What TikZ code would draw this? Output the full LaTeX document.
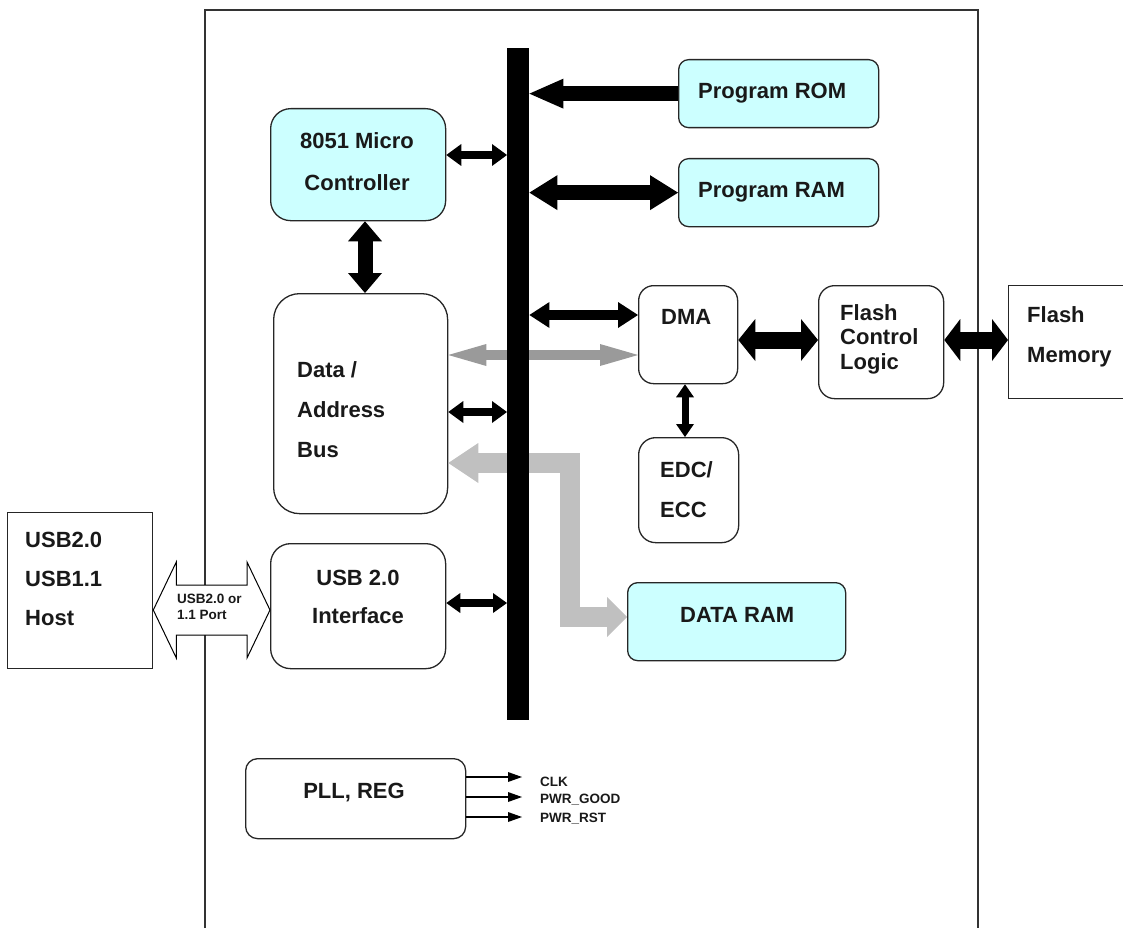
\documentclass[tikz,border=0pt]{standalone}
\usepackage{fontspec}
\setmainfont{Liberation Sans}
\usetikzlibrary{arrows.meta,calc}
\definecolor{cyanbox}{HTML}{CCFFFF}
\definecolor{lgray}{HTML}{C0C0C0}
\definecolor{mgray}{HTML}{9A9A9A}
\tikzset{
  box/.style={draw=black!85, line width=1.3pt, inner sep=0pt, anchor=north west},
  lbl/.style={font=\fontsize{22}{#1}\selectfont\bfseries, inner sep=0pt, align=left, text=black!90},
  lbl/.default=40,
  sml/.style={font=\fontsize{13.5}{16}\selectfont\bfseries, inner sep=0pt, align=left, text=black!90},
  dbl/.style n args={3}{line width=#1pt, arrows={Triangle[length=#3pt,width=#2pt,line width=0pt]-Triangle[length=#3pt,width=#2pt,line width=0pt]}},
  sgl/.style n args={3}{line width=#1pt, arrows={-Triangle[length=#3pt,width=#2pt,line width=0pt]}},
}
\begin{document}
\begin{tikzpicture}[x=1pt,y=-1pt]
\useasboundingbox (0,0) rectangle (1123,928);
% chip outline (open at the bottom)
\draw[line width=1.6pt, black!80] (205,928) -- (205,10) -- (978,10) -- (978,928);
% boxes
\node[box,fill=cyanbox,minimum width=175,minimum height=112,rounded corners=20] (m8051) at (270,108) {};
\node[box,fill=cyanbox,minimum width=200,minimum height=68,rounded corners=10] (rom) at (678,59) {};
\node[box,fill=cyanbox,minimum width=200,minimum height=68,rounded corners=10] (ram) at (678,158) {};
\node[box,minimum width=174,minimum height=220,rounded corners=26] (da) at (273,293) {};
\node[box,minimum width=99,minimum height=98,rounded corners=15] (dma) at (638,285) {};
\node[box,minimum width=125,minimum height=113,rounded corners=16] (fcl) at (818,285) {};
\node[box,minimum width=140,minimum height=113] (fmem) at (1008,285) {};
\node[box,minimum width=100,minimum height=105,rounded corners=17] (edc) at (638,437) {};
\node[box,minimum width=175,minimum height=125,rounded corners=20] (usbif) at (270,543) {};
\node[box,fill=cyanbox,minimum width=218,minimum height=78,rounded corners=10] (dataram) at (627,582) {};
\node[box,minimum width=145,minimum height=156] (host) at (7,512) {};
\node[box,minimum width=220,minimum height=80,rounded corners=12] (pll) at (245,758) {};
% gray data paths (behind the bus)
\draw[mgray, dbl={10}{22}{38}] (da.east |- 0,355) -- (dma.west |- 0,355);
\draw[lgray, line width=20pt, line join=miter,
  arrows={Triangle[length=30pt,width=40pt,line width=0pt]-Triangle[length=20pt,width=40pt,line width=0pt]}]
  (da.east |- 0,463) -| (570,617) -- (dataram.west |- 0,617);
% bus bar
\node[fill=black, inner sep=0pt, minimum width=22, minimum height=672, anchor=north west] (bus) at (507,48) {};
% black connectors
\draw[sgl={15}{30}{34}] (rom.west) -- (bus.east |- rom.west);
\draw[dbl={15}{35}{28}] (ram.west) -- (bus.east |- ram.west);
\draw[dbl={8}{22}{15}] (m8051.east |- 0,155) -- (bus.west |- 0,155);
\draw[dbl={15}{34}{20}] (m8051.south -| 365,0) -- (da.north -| 365,0);
\draw[dbl={10}{26}{20}] (bus.east |- 0,315) -- (dma.west |- 0,315);
\draw[dbl={8}{22}{15}] (da.east |- 0,412) -- (bus.west |- 0,412);
\draw[dbl={17}{42}{17}] (dma.east |- 0,340) -- (fcl.west |- 0,340);
\draw[dbl={17}{42}{16}] (fcl.east |- 0,340) -- (fmem.west |- 0,340);
\draw[dbl={7}{18}{13}] (dma.south -| 685,0) -- (edc.north -| 685,0);
\draw[dbl={8}{20}{14}] (usbif.east |- 0,603) -- (bus.west |- 0,603);
% PLL outputs
\coordinate (clk) at (522,777);
\coordinate (pgood) at (522,797);
\coordinate (prst) at (522,817);
\draw[sgl={2}{10}{14}] (pll.east |- clk) -- (clk);
\draw[sgl={2}{10}{14}] (pll.east |- pgood) -- (pgood);
\draw[sgl={2}{10}{14}] (pll.east |- prst) -- (prst);
% hollow USB port arrow
\coordinate (pL) at (host.east |- 0,610);
\coordinate (pR) at (usbif.west |- 0,610);
\draw[line width=1pt, fill=white, line join=miter] (pL) -- ++(23,-48) -- ++(0,23) -- ($(pR)+(-23,-25)$) -- ++(0,-23) -- (pR)
  -- ++(-23,48) -- ++(0,-23) -- ($(pL)+(23,25)$) -- ++(0,23) -- cycle;
\node[sml, anchor=base west] (tport) at (177,619) {USB2.0 or\\1.1 Port};
% texts (multi-line nodes are placed by the baseline of their last line)
\node[lbl=42, align=center, anchor=base] (t8051) at (357,190) {8051 Micro\\Controller};
\node[lbl, anchor=base west] (trom) at (698,99) {Program ROM};
\node[lbl, anchor=base west] (tram) at (698,197) {Program RAM};
\node[lbl, anchor=base west] (tda) at (297,457) {Data /\\Address\\Bus};
\node[lbl, anchor=base west] (tdma) at (661,324) {DMA};
\node[lbl=24.5, anchor=base west] (tfcl) at (840,369) {Flash\\Control\\Logic};
\node[lbl, anchor=base west] (tfmem) at (1027,362) {Flash\\Memory};
\node[lbl, anchor=base west] (tedc) at (660,517) {EDC/\\ECC};
\node[lbl=38, align=center, anchor=base] (tusbif) at (358,623) {USB 2.0\\Interface};
\node[lbl, anchor=base west] (tdataram) at (680,622) {DATA RAM};
\node[lbl=39, anchor=base west] (thost) at (25,625) {USB2.0\\USB1.1\\Host};
\node[lbl, anchor=base] (tpll) at (354,798) {PLL, REG};
\node[sml, anchor=base west] (tclk) at (540,786) {CLK};
\node[sml, anchor=base west] (tpgood) at (540,803) {PWR\_GOOD};
\node[sml, anchor=base west] (tprst) at (540,822) {PWR\_RST};
\end{tikzpicture}
\end{document}
